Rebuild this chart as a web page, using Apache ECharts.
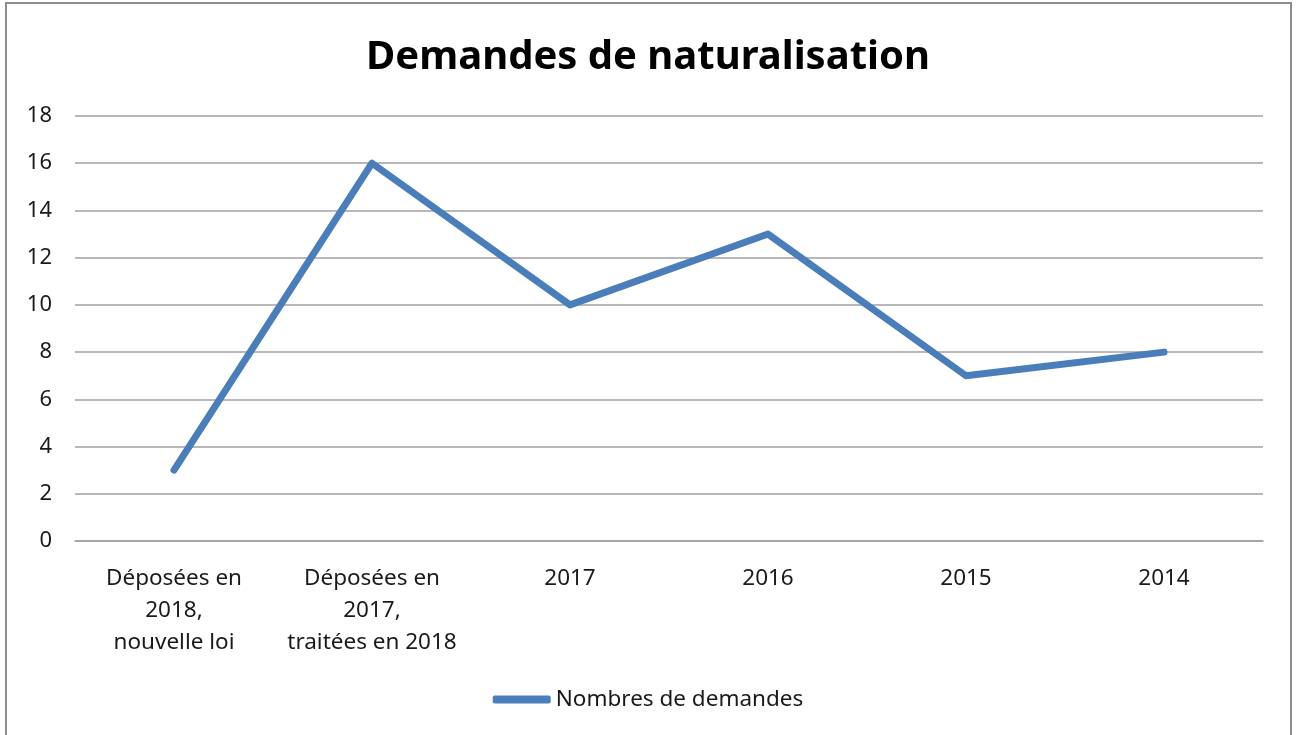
<!DOCTYPE html>
<html>
<head>
<meta charset="utf-8">
<script src="https://cdn.jsdelivr.net/npm/echarts@6/dist/echarts.min.js"></script>
<style>
  html, body { margin: 0; padding: 0; background: #fff; }
  #frame {
    position: absolute; left: 5px; top: 2px; width: 1287px; height: 740px;
    border: 2px solid #8c8c8c; box-sizing: border-box;
  }
  #mychart { position: absolute; left: 0; top: 0; width: 1296px; height: 735px; }
</style>
</head>
<body>
<div id="frame"></div>
<div id="mychart"></div>
<script>
// categories (x axis) and values
let categories = [
    'Déposées en\n2018,\nnouvelle loi',
    'Déposées en\n2017,\ntraitées en 2018',
    '2017',
    '2016',
    '2015',
    '2014'
];
let demandes = [3, 16, 10, 13, 7, 8];
let seriesName = 'Nombres de demandes';
let titleText = 'Demandes de naturalisation';

let fontName = '"Noto Sans", "DejaVu Sans", sans-serif';

let option = {
    animation: false,
    title: {
        text: titleText,
        left: 'center',
        top: 33,
        textStyle: {
            fontFamily: fontName,
            fontWeight: 'bold',
            fontSize: 40,
            color: '#000'
        }
    },
    grid: {
        left: 75,
        right: 33,
        top: 116,
        bottom: 194
    },
    legend: {
        bottom: 19,
        left: 'center',
        icon: 'roundRect',
        itemWidth: 58,
        itemHeight: 8,
        textStyle: {
            fontFamily: fontName,
            fontSize: 22.5,
            color: '#1a1a1a'
        },
        data: [seriesName]
    },
    xAxis: {
        type: 'category',
        boundaryGap: true,
        data: categories,
        axisLine: { show: true, lineStyle: { color: '#a0a0a0', width: 1.5 } },
        axisTick: { show: false },
        axisLabel: {
            interval: 0,
            margin: 22,
            lineHeight: 32,
            fontFamily: fontName,
            fontSize: 22.5,
            color: '#1a1a1a'
        }
    },
    yAxis: {
        type: 'value',
        min: 0,
        max: 18,
        interval: 2,
        axisLine: { show: false },
        axisTick: { show: false },
        splitLine: { lineStyle: { color: '#a0a0a0', width: 1.5 } },
        axisLabel: {
            margin: 23,
            fontFamily: fontName,
            fontSize: 22,
            color: '#1a1a1a'
        }
    },
    series: [{
        name: seriesName,
        type: 'line',
        data: demandes,
        symbol: 'none',
        itemStyle: { color: '#4a7ebb' },
        lineStyle: { color: '#4a7ebb', width: 7, cap: 'round', join: 'round' }
    }]
};

let myChart = echarts.init(document.getElementById('mychart'));
myChart.setOption(option);
</script>
</body>
</html>
